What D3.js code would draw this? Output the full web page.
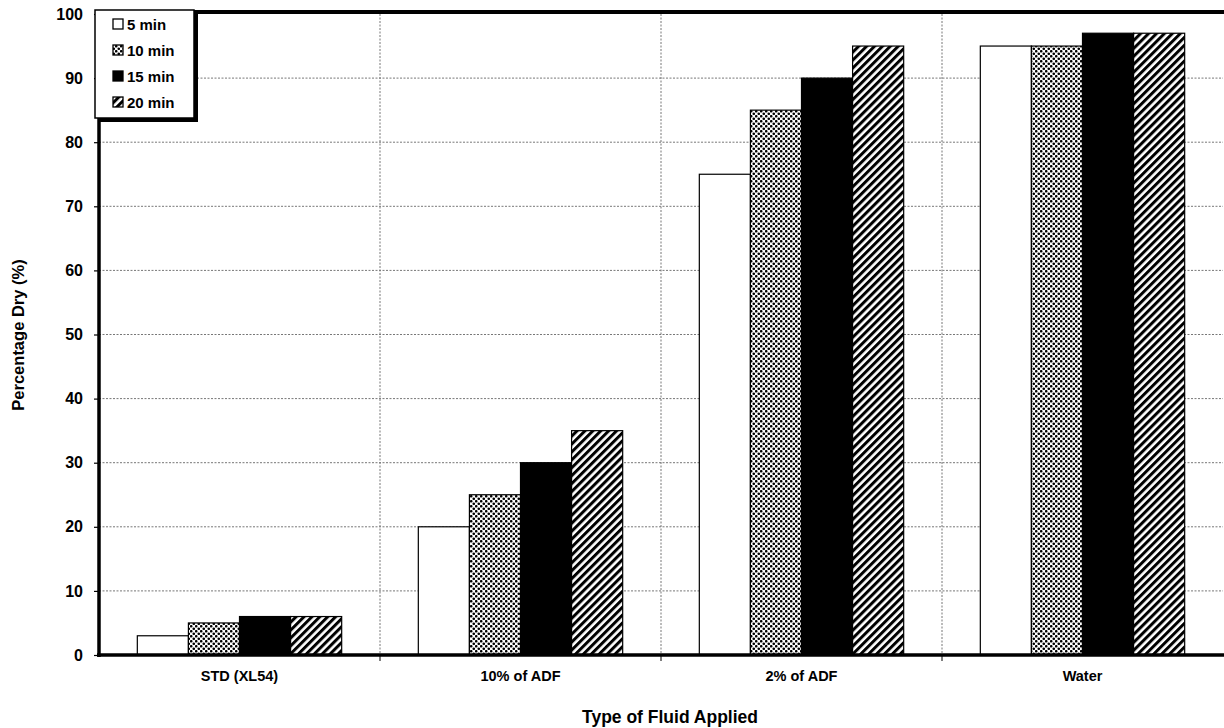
<!DOCTYPE html>
<html><head><meta charset="utf-8">
<script src="https://cdn.jsdelivr.net/npm/d3@7"></script>
<style>body{margin:0;background:#fff}svg{display:block}</style>
</head><body>
<svg id="c" width="1224" height="728"></svg>
<script>
const categories = ["STD (XL54)", "10% of ADF", "2% of ADF", "Water"];
const seriesNames = ["5 min", "10 min", "15 min", "20 min"];
const v5 = [3, 20, 75, 95];
const v10 = [5, 25, 85, 95];
const v15 = [6, 30, 90, 97];
const v20 = [6, 35, 95, 97];
const yTicks = [0,10,20,30,40,50,60,70,80,90,100];
const seriesValues = [v5, v10, v15, v20];

const svg = d3.select("#c");
const font = "Arial, 'Liberation Sans', sans-serif";
const L = 99, R = 1223, T = 14, B = 655;

const defs = svg.append("defs");
const dots = defs.append("pattern").attr("id","dots").attr("patternUnits","userSpaceOnUse").attr("width",5).attr("height",5);
dots.append("rect").attr("width",5).attr("height",5).attr("fill","#fff");
dots.append("circle").attr("cx",1.25).attr("cy",1.25).attr("r",1.3).attr("fill","#000");
dots.append("circle").attr("cx",3.75).attr("cy",3.75).attr("r",1.3).attr("fill","#000");
const hatch = defs.append("pattern").attr("id","hatch").attr("patternUnits","userSpaceOnUse").attr("width",5.6).attr("height",5.6).attr("patternTransform","rotate(45)");
hatch.append("rect").attr("width",5.6).attr("height",5.6).attr("fill","#fff");
hatch.append("rect").attr("width",3).attr("height",5.6).attr("fill","#000");
const fills = ["#fff","url(#dots)","#000","url(#hatch)"];

const x0 = d3.scaleBand().domain(categories).range([L, R]).paddingInner(0).paddingOuter(0);
const x1 = d3.scaleBand().domain(seriesNames).range([0, x0.bandwidth()]).paddingInner(0).paddingOuter(0.75);
const y = d3.scaleLinear().domain([0,100]).range([B, T]);

// gridlines
svg.append("g").selectAll("line").data(yTicks.filter(d=>d>0&&d<100)).join("line")
  .attr("x1",L).attr("x2",R).attr("y1",d=>y(d)).attr("y2",d=>y(d))
  .attr("stroke","#777").attr("stroke-width",1).attr("stroke-dasharray","2,1.5");
svg.append("g").selectAll("line").data(categories.slice(1)).join("line")
  .attr("x1",d=>x0(d)).attr("x2",d=>x0(d)).attr("y1",T).attr("y2",B)
  .attr("stroke","#777").attr("stroke-width",1).attr("stroke-dasharray","2,1.5");

// bars
const g = svg.append("g");
categories.forEach((c,ci)=>{
  seriesNames.forEach((s,si)=>{
    const v = seriesValues[si][ci];
    g.append("rect").attr("x",x0(c)+x1(s)).attr("y",y(v)).attr("width",x1.bandwidth()).attr("height",B-y(v))
      .attr("fill",fills[si]).attr("stroke","#000").attr("stroke-width",1.2);
  });
});

// axes
const ya = svg.append("g").attr("transform",`translate(${L},0)`).call(d3.axisLeft(y).tickValues(yTicks).tickSize(5).tickPadding(11));
ya.select(".domain").remove();
ya.selectAll("line").attr("stroke","#000").attr("stroke-width",1.2);
ya.selectAll("text").attr("font-family",font).attr("font-size",16).attr("font-weight","bold").attr("fill","#000");

const xa = svg.append("g").attr("transform",`translate(0,${B})`).call(d3.axisBottom(x0).tickSize(0).tickPadding(16));
xa.select(".domain").remove();
xa.selectAll("text").attr("font-family",font).attr("font-size",14.5).attr("font-weight","bold").attr("fill","#000");
svg.append("g").selectAll("line").data(categories.slice(1)).join("line")
  .attr("x1",d=>x0(d)).attr("x2",d=>x0(d)).attr("y1",B).attr("y2",B+6).attr("stroke","#000").attr("stroke-width",1);

svg.append("line").attr("x1",L).attr("x2",L).attr("y1",T-3).attr("y2",B+2).attr("stroke","#000").attr("stroke-width",3.5);
svg.append("line").attr("x1",L-2).attr("x2",R+2).attr("y1",B).attr("y2",B).attr("stroke","#000").attr("stroke-width",3.5);
svg.append("line").attr("x1",L).attr("x2",R+2).attr("y1",12).attr("y2",12).attr("stroke","#000").attr("stroke-width",4);

// titles
svg.append("text").attr("x",670).attr("y",723).attr("text-anchor","middle").attr("font-family",font)
  .attr("font-size",17.5).attr("font-weight","bold").text("Type of Fluid Applied");
svg.append("text").attr("transform","translate(24,335) rotate(-90)").attr("text-anchor","middle").attr("font-family",font)
  .attr("font-size",16.5).attr("font-weight","bold").text("Percentage Dry (%)");

// legend
const lg = svg.append("g");
lg.append("rect").attr("x",99).attr("y",14).attr("width",99).attr("height",108).attr("fill","#000");
lg.append("rect").attr("x",95).attr("y",10).attr("width",99).attr("height",108).attr("fill","#fff").attr("stroke","#000").attr("stroke-width",1.5);
seriesNames.forEach((s,i)=>{
  const yy = 24 + i*26;
  lg.append("rect").attr("x",113).attr("y",yy-5).attr("width",10).attr("height",10).attr("fill",fills[i]).attr("stroke","#000").attr("stroke-width",1.3);
  lg.append("text").attr("x",127).attr("y",yy+5.5).attr("font-family",font).attr("font-size",15).attr("font-weight","bold").text(s);
});
</script>
</body></html>
